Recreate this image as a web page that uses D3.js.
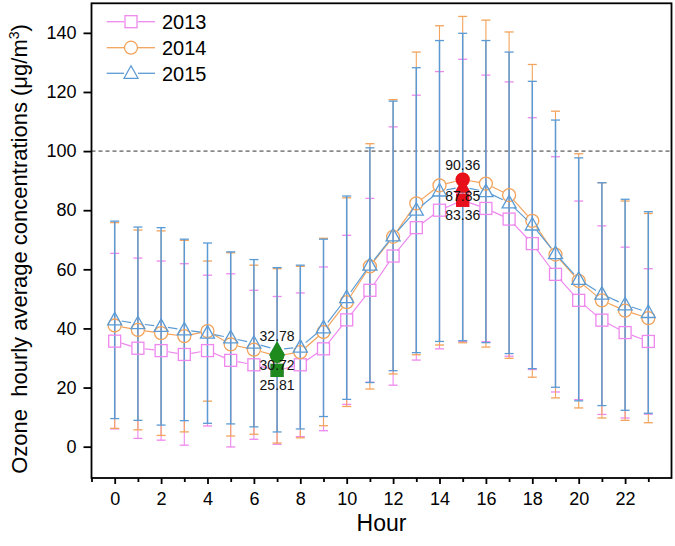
<!DOCTYPE html>
<html>
<head>
<meta charset="utf-8">
<script src="https://cdn.jsdelivr.net/npm/d3@7"></script>
<style>
  html, body { margin: 0; padding: 0; background: #fff; }
  svg { display: block; font-family: "Liberation Sans", Arial, sans-serif; }
</style>
</head>
<body>
<svg id="chart" width="675" height="546"></svg>
<script>
// ---------------- data ----------------
const hours = [0,1,2,3,4,5,6,7,8,9,10,11,12,13,14,15,16,17,18,19,20,21,22,23];
const seriesNames = ["2013", "2014", "2015"];
const mean2013 = [35.7,33.3,32.5,31.2,32.5,29.2,27.7,25.81,27.7,33.1,42.9,52.9,64.5,74.1,80.0,83.36,80.6,77.0,68.7,58.3,49.5,42.8,38.6,35.6];
const sd2013   = [29.7,30.5,30.3,30.7,25.5,29.3,25.2,25.0,24.3,27.7,28.6,31.1,43.7,44.8,46.9,47.7,45.1,46.4,42.6,39.8,33.6,31.9,28.9,24.6];
const mean2014 = [41.0,39.5,38.4,37.4,39.1,34.6,32.8,30.72,32.0,38.8,48.9,61.0,71.0,82.3,88.4,90.36,89.0,85.1,76.4,65.0,56.1,49.5,46.0,43.5];
const sd2014   = [34.8,33.8,34.6,32.4,23.7,31.0,28.6,29.5,29.0,31.7,35.3,41.5,46.4,51.2,54.0,55.2,55.3,55.2,52.9,48.5,43.0,39.8,37.1,35.4];
const mean2015 = [42.9,41.6,40.7,39.5,38.4,36.8,35.0,32.78,33.7,40.2,50.4,61.4,71.3,80.0,86.5,87.85,86.3,82.5,75.0,65.3,56.6,51.6,48.0,45.4];
const sd2015   = [33.4,32.7,33.4,30.7,30.5,29.1,28.3,27.8,27.7,30.0,34.4,39.7,45.6,48.2,50.9,52.0,51.1,51.0,48.6,45.2,41.1,37.7,35.7,34.1];
const xTickLabels = [0,2,4,6,8,10,12,14,16,18,20,22];
const xMinorTicks = [-1,1,3,5,7,9,11,13,15,17,19,21,23];
const yTickLabels = [0,20,40,60,80,100,120,140];
const thresholdValue = 100;
const minHour = 7;   // highlighted minimum (green)
const maxHour = 15;  // highlighted maximum (red)

// ---------------- layout ----------------
const svg = d3.select("#chart");
const L = 91.5, R = 671.5, T = 3.3, B = 478;
const x = d3.scaleLinear().domain([-1, 24]).range([L, R]);
const y = d3.scaleLinear().domain([-10.6, 150]).range([B, T]);

const colors = { "2013": "#EE88EE", "2014": "#F2A35C", "2015": "#5B9BD5" };
const means = { "2013": mean2013, "2014": mean2014, "2015": mean2015 };
const sds = { "2013": sd2013, "2014": sd2014, "2015": sd2015 };
const shapes = { "2013": "square", "2014": "circle", "2015": "triangle" };

function drawMarker(g, shape, cx, cy, color, filled) {
  const fill = filled ? color : "none";
  if (shape === "square") {
    g.append("rect").attr("x", cx - 6).attr("y", cy - 6).attr("width", 12).attr("height", 12)
      .attr("fill", fill).attr("stroke", color).attr("stroke-width", 1.3);
  } else if (shape === "circle") {
    g.append("circle").attr("cx", cx).attr("cy", cy).attr("r", 6.5)
      .attr("fill", fill).attr("stroke", color).attr("stroke-width", 1.3);
  } else {
    const pts = [[cx, cy - 7.5], [cx + 7, cy + 5], [cx - 7, cy + 5]];
    g.append("polygon").attr("points", pts.map(p => p.join(",")).join(" "))
      .attr("fill", fill).attr("stroke", color).attr("stroke-width", 1.3);
  }
}

// threshold dashed line
svg.append("line")
  .attr("x1", L).attr("x2", R).attr("y1", y(thresholdValue)).attr("y2", y(thresholdValue))
  .attr("stroke", "#333").attr("stroke-width", 1).attr("stroke-dasharray", "4,3");

// error bars
const ebG = svg.append("g");
seriesNames.forEach(name => {
  const c = colors[name];
  const w = name === "2015" ? 1.5 : 1.1;
  hours.forEach((h, i) => {
    const m = means[name][i], s = sds[name][i];
    const cx = x(h);
    ebG.append("line").attr("x1", cx).attr("x2", cx).attr("y1", y(m - s)).attr("y2", y(m + s))
      .attr("stroke", c).attr("stroke-width", w);
    [m - s, m + s].forEach(v => {
      ebG.append("line").attr("x1", cx - 4.5).attr("x2", cx + 4.5).attr("y1", y(v)).attr("y2", y(v))
        .attr("stroke", c).attr("stroke-width", 1.3);
    });
  });
});

// lines with gaps at markers + markers
const lineG = svg.append("g");
seriesNames.forEach(name => {
  const c = colors[name];
  const pts = hours.map((h, i) => [x(h), y(means[name][i])]);
  for (let i = 0; i < pts.length - 1; i++) {
    const [x1, y1] = pts[i], [x2, y2] = pts[i + 1];
    const dx = x2 - x1, dy = y2 - y1, d = Math.hypot(dx, dy);
    const g = 7;
    if (d > 2 * g) {
      lineG.append("line")
        .attr("x1", x1 + dx / d * g).attr("y1", y1 + dy / d * g)
        .attr("x2", x2 - dx / d * g).attr("y2", y2 - dy / d * g)
        .attr("stroke", c).attr("stroke-width", 1.2);
    }
  }
  pts.forEach(p => drawMarker(lineG, shapes[name], p[0], p[1], c, false));
});

// highlighted min/max
const hiG = svg.append("g");
[[minHour, "#1E8A1E"], [maxHour, "#E8101A"]].forEach(([hr, col]) => {
  const i = hours.indexOf(hr);
  ["2013", "2015", "2014"].forEach(name => {
    drawMarker(hiG, shapes[name], x(hr), y(means[name][i]), col, true);
  });
  const vals = seriesNames.map(n => means[n][i]).sort((a, b) => b - a);
  const offs = [-14, 9, 15];
  vals.forEach((v, k) => {
    hiG.append("text").attr("x", x(hr)).attr("y", y(v) + offs[k]).attr("dy", "0.35em")
      .attr("text-anchor", "middle").attr("font-size", 14).attr("fill", "#111")
      .text(v.toFixed(2));
  });
});

// frame
svg.append("rect").attr("x", L).attr("y", T).attr("width", R - L).attr("height", B - T)
  .attr("fill", "none").attr("stroke", "#000").attr("stroke-width", 1.8);

// axes
const yAxis = svg.append("g").attr("transform", `translate(${L},0)`)
  .call(d3.axisLeft(y).tickValues(yTickLabels).tickSize(8).tickPadding(7).tickSizeOuter(0));
yAxis.select(".domain").remove();
yAxis.selectAll("line").attr("stroke-width", 1.8);
yAxis.selectAll("text").attr("font-size", 18).attr("font-family", "Liberation Sans, Arial, sans-serif").attr("fill", "#000");

const xAxis = svg.append("g").attr("transform", `translate(0,${B})`)
  .call(d3.axisBottom(x).tickValues(xTickLabels).tickSize(6).tickPadding(8).tickSizeOuter(0));
xAxis.select(".domain").remove();
xAxis.selectAll("line").attr("stroke-width", 1.8);
xAxis.selectAll("text").attr("font-size", 18).attr("font-family", "Liberation Sans, Arial, sans-serif").attr("fill", "#000");

const xMinor = svg.append("g").attr("transform", `translate(0,${B})`)
  .call(d3.axisBottom(x).tickValues(xMinorTicks).tickSize(4).tickFormat("").tickSizeOuter(0));
xMinor.select(".domain").remove();
xMinor.selectAll("line").attr("stroke-width", 1.8);

// axis titles
svg.append("text").attr("x", (L + R) / 2).attr("y", 531).attr("text-anchor", "middle")
  .attr("font-size", 23).attr("fill", "#000").text("Hour");

const yt = svg.append("text").attr("transform", "translate(27,249) rotate(-90)")
  .attr("text-anchor", "middle").attr("font-size", 22).attr("fill", "#000")
  .style("white-space", "pre");
yt.append("tspan").text("Ozone  hourly average concentrations (\u03bcg/m");
yt.append("tspan").attr("dy", -8).attr("font-size", 14).text("3");
yt.append("tspan").attr("dy", 8).text(")");

// legend
const lg = svg.append("g");
seriesNames.forEach((name, k) => {
  const ly = [21.7, 47.7, 73.3][k];
  const c = colors[name];
  lg.append("line").attr("x1", 106.7).attr("x2", 124).attr("y1", ly).attr("y2", ly).attr("stroke", c).attr("stroke-width", 1.3);
  lg.append("line").attr("x1", 138).attr("x2", 155).attr("y1", ly).attr("y2", ly).attr("stroke", c).attr("stroke-width", 1.3);
  drawMarker(lg, shapes[name], 131, ly, c, false);
  lg.append("text").attr("x", 162).attr("y", ly).attr("dy", "0.36em").attr("font-size", 20).attr("fill", "#000").text(name);
});
</script>
</body>
</html>
